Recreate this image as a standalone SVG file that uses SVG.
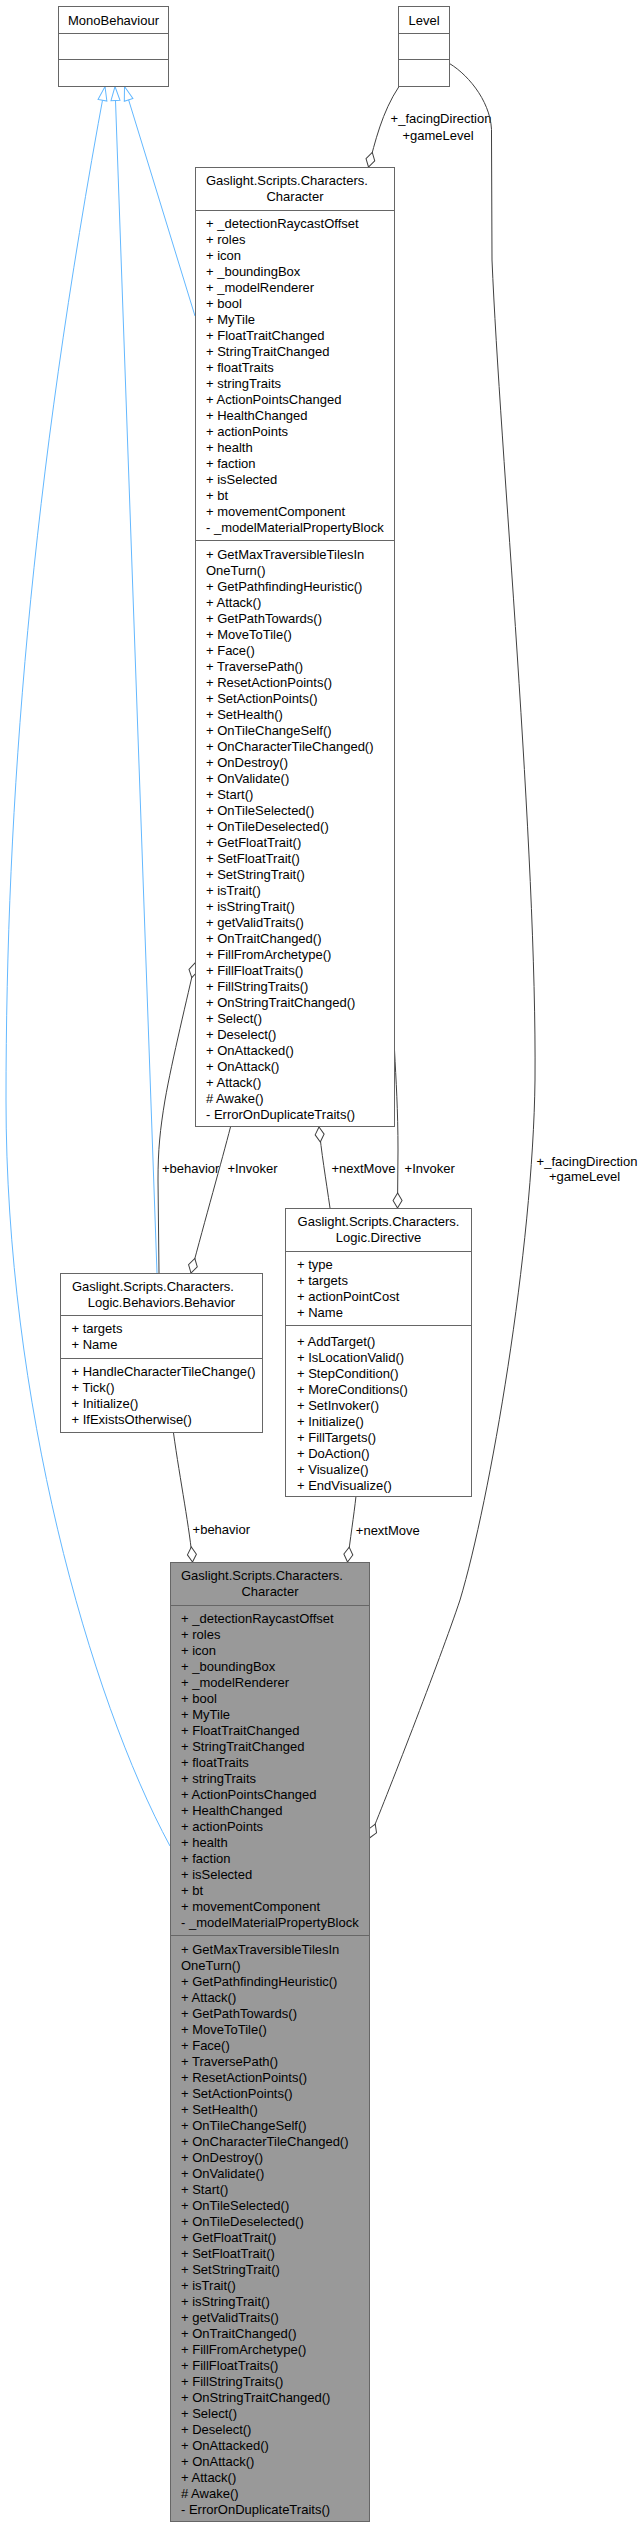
<svg xmlns="http://www.w3.org/2000/svg" width="639" height="2528" viewBox="0 0 639 2528">
<style>
text{font-family:"Liberation Sans",Arial,Helvetica,sans-serif;font-size:13px;fill:#000}
.c{text-anchor:middle}
.box{fill:#fff;stroke:#666;stroke-width:1}
.cur{fill:#999;stroke:#666;stroke-width:1}
.sep{stroke:#666;stroke-width:1;fill:none}
.inh{fill:none;stroke:#63B8FF;stroke-width:1;marker-end:url(#tri)}
.asc{fill:none;stroke:#404040;stroke-width:1;marker-start:url(#dia)}
</style>
<defs>
<marker id="tri" markerUnits="userSpaceOnUse" markerWidth="16" markerHeight="12" viewBox="-1 -1 16 12" refX="14" refY="5" orient="auto"><path d="M0,0.5 L14,5 L0,9.5 Z" fill="#fff" stroke="#63B8FF"/></marker>
<marker id="dia" markerUnits="userSpaceOnUse" markerWidth="17" markerHeight="11" viewBox="-1 -1 17 11" refX="0" refY="4.5" orient="auto"><path d="M0,4.5 L7.5,0 L15,4.5 L7.5,9 Z" fill="#fff" stroke="#404040"/></marker>
</defs>
<rect width="639" height="2528" fill="#fff"/>
<g id="connectors">
<path class="inh" d="M170,1846 C89,1696 6,1400 6,1100 C6,800 31,486 105,86.5"/>
<path class="inh" d="M157,1273 L115,86.5"/>
<path class="inh" d="M195,316 L124.5,86.5"/>
<path class="asc" d="M368.5,167 C375,142 382,112 399,86.5"/>
<text class="c" x="441" y="122.5">+_facingDirection</text>
<text class="c" x="438" y="139.5">+gameLevel</text>
<path class="asc" d="M369.5,1838 C384,1803 440,1660 460,1600 C490,1500 533,1250 535,1080 C537,850 500,450 492,260 L491.5,135 C493,105 470,76 449.5,63.5"/>
<text class="c" x="587" y="1165.5">+_facingDirection</text>
<text class="c" x="584.5" y="1181">+gameLevel</text>
<path class="asc" d="M195,963 C188,995 172,1060 165,1100 C160,1130 158,1150 158,1180 L159,1273"/>
<text class="c" x="190.7" y="1172.5">+behavior</text>
<path class="asc" d="M191,1273 C205,1220 222,1160 230.5,1127"/>
<text class="c" x="252.5" y="1172.5">+Invoker</text>
<path class="asc" d="M319,1127 C321,1150 326,1180 330,1208"/>
<text class="c" x="363.4" y="1172.5">+nextMove</text>
<path class="asc" d="M397.5,1208 L398,1150 C398,1110 396,1080 394.5,1050"/>
<text class="c" x="429.7" y="1172.5">+Invoker</text>
<path class="asc" d="M192.5,1562 C190,1530 180,1480 173.5,1433"/>
<text class="c" x="221.3" y="1534">+behavior</text>
<path class="asc" d="M347.5,1562 C350,1540 354,1515 356,1496"/>
<text class="c" x="387.8" y="1534.5">+nextMove</text>
</g>
<g id="MonoBehaviour">
<rect class="box" x="58.5" y="6.5" width="110" height="80"/>
<path class="sep" d="M58.5,33.5 H168.5 M58.5,59.5 H168.5"/>
<text class="c" x="113.5" y="25">MonoBehaviour</text>
</g>
<g id="Level">
<rect class="box" x="398.5" y="6.5" width="51" height="80"/>
<path class="sep" d="M398.5,33.5 H449.5 M398.5,59.5 H449.5"/>
<text class="c" x="424" y="25">Level</text>
</g>
<g id="Character">
<rect class="box" x="195.5" y="167.5" width="199" height="959"/>
<path class="sep" d="M195.5,210.5 H394.5 M195.5,540.5 H394.5"/>
<text x="206" y="185">Gaslight.Scripts.Characters.</text>
<text class="c" x="295" y="201">Character</text>
<text x="206" y="228"><tspan x="206">+ _detectionRaycastOffset</tspan><tspan x="206" dy="16">+ roles</tspan><tspan x="206" dy="16">+ icon</tspan><tspan x="206" dy="16">+ _boundingBox</tspan><tspan x="206" dy="16">+ _modelRenderer</tspan><tspan x="206" dy="16">+ bool</tspan><tspan x="206" dy="16">+ MyTile</tspan><tspan x="206" dy="16">+ FloatTraitChanged</tspan><tspan x="206" dy="16">+ StringTraitChanged</tspan><tspan x="206" dy="16">+ floatTraits</tspan><tspan x="206" dy="16">+ stringTraits</tspan><tspan x="206" dy="16">+ ActionPointsChanged</tspan><tspan x="206" dy="16">+ HealthChanged</tspan><tspan x="206" dy="16">+ actionPoints</tspan><tspan x="206" dy="16">+ health</tspan><tspan x="206" dy="16">+ faction</tspan><tspan x="206" dy="16">+ isSelected</tspan><tspan x="206" dy="16">+ bt</tspan><tspan x="206" dy="16">+ movementComponent</tspan><tspan x="206" dy="16">- _modelMaterialPropertyBlock</tspan></text>
<text x="206" y="559"><tspan x="206">+ GetMaxTraversibleTilesIn</tspan><tspan x="206" dy="16">OneTurn()</tspan><tspan x="206" dy="16">+ GetPathfindingHeuristic()</tspan><tspan x="206" dy="16">+ Attack()</tspan><tspan x="206" dy="16">+ GetPathTowards()</tspan><tspan x="206" dy="16">+ MoveToTile()</tspan><tspan x="206" dy="16">+ Face()</tspan><tspan x="206" dy="16">+ TraversePath()</tspan><tspan x="206" dy="16">+ ResetActionPoints()</tspan><tspan x="206" dy="16">+ SetActionPoints()</tspan><tspan x="206" dy="16">+ SetHealth()</tspan><tspan x="206" dy="16">+ OnTileChangeSelf()</tspan><tspan x="206" dy="16">+ OnCharacterTileChanged()</tspan><tspan x="206" dy="16">+ OnDestroy()</tspan><tspan x="206" dy="16">+ OnValidate()</tspan><tspan x="206" dy="16">+ Start()</tspan><tspan x="206" dy="16">+ OnTileSelected()</tspan><tspan x="206" dy="16">+ OnTileDeselected()</tspan><tspan x="206" dy="16">+ GetFloatTrait()</tspan><tspan x="206" dy="16">+ SetFloatTrait()</tspan><tspan x="206" dy="16">+ SetStringTrait()</tspan><tspan x="206" dy="16">+ isTrait()</tspan><tspan x="206" dy="16">+ isStringTrait()</tspan><tspan x="206" dy="16">+ getValidTraits()</tspan><tspan x="206" dy="16">+ OnTraitChanged()</tspan><tspan x="206" dy="16">+ FillFromArchetype()</tspan><tspan x="206" dy="16">+ FillFloatTraits()</tspan><tspan x="206" dy="16">+ FillStringTraits()</tspan><tspan x="206" dy="16">+ OnStringTraitChanged()</tspan><tspan x="206" dy="16">+ Select()</tspan><tspan x="206" dy="16">+ Deselect()</tspan><tspan x="206" dy="16">+ OnAttacked()</tspan><tspan x="206" dy="16">+ OnAttack()</tspan><tspan x="206" dy="16">+ Attack()</tspan><tspan x="206" dy="16"># Awake()</tspan><tspan x="206" dy="16">- ErrorOnDuplicateTraits()</tspan></text>
</g>
<g id="Behavior">
<rect class="box" x="60.5" y="1273.5" width="202" height="159"/>
<path class="sep" d="M60.5,1315.5 H262.5 M60.5,1358.5 H262.5"/>
<text x="72" y="1291">Gaslight.Scripts.Characters.</text>
<text class="c" x="161.5" y="1307">Logic.Behaviors.Behavior</text>
<text x="71.5" y="1333"><tspan x="71.5">+ targets</tspan><tspan x="71.5" dy="16">+ Name</tspan></text>
<text x="71.5" y="1376"><tspan x="71.5">+ HandleCharacterTileChange()</tspan><tspan x="71.5" dy="16">+ Tick()</tspan><tspan x="71.5" dy="16">+ Initialize()</tspan><tspan x="71.5" dy="16">+ IfExistsOtherwise()</tspan></text>
</g>
<g id="Directive">
<rect class="box" x="285.5" y="1208.5" width="186" height="288"/>
<path class="sep" d="M285.5,1251.5 H471.5 M285.5,1325.5 H471.5"/>
<text class="c" x="378.5" y="1226">Gaslight.Scripts.Characters.</text>
<text class="c" x="378.5" y="1242">Logic.Directive</text>
<text x="297" y="1269"><tspan x="297">+ type</tspan><tspan x="297" dy="16">+ targets</tspan><tspan x="297" dy="16">+ actionPointCost</tspan><tspan x="297" dy="16">+ Name</tspan></text>
<text x="297" y="1345.5"><tspan x="297">+ AddTarget()</tspan><tspan x="297" dy="16">+ IsLocationValid()</tspan><tspan x="297" dy="16">+ StepCondition()</tspan><tspan x="297" dy="16">+ MoreConditions()</tspan><tspan x="297" dy="16">+ SetInvoker()</tspan><tspan x="297" dy="16">+ Initialize()</tspan><tspan x="297" dy="16">+ FillTargets()</tspan><tspan x="297" dy="16">+ DoAction()</tspan><tspan x="297" dy="16">+ Visualize()</tspan><tspan x="297" dy="16">+ EndVisualize()</tspan></text>
</g>
<g id="CharacterCurrent">
<rect class="cur" x="170.5" y="1562.5" width="199" height="959"/>
<path class="sep" d="M170.5,1605.5 H369.5 M170.5,1935.5 H369.5"/>
<text x="181" y="1580">Gaslight.Scripts.Characters.</text>
<text class="c" x="270" y="1596">Character</text>
<text x="181" y="1623"><tspan x="181">+ _detectionRaycastOffset</tspan><tspan x="181" dy="16">+ roles</tspan><tspan x="181" dy="16">+ icon</tspan><tspan x="181" dy="16">+ _boundingBox</tspan><tspan x="181" dy="16">+ _modelRenderer</tspan><tspan x="181" dy="16">+ bool</tspan><tspan x="181" dy="16">+ MyTile</tspan><tspan x="181" dy="16">+ FloatTraitChanged</tspan><tspan x="181" dy="16">+ StringTraitChanged</tspan><tspan x="181" dy="16">+ floatTraits</tspan><tspan x="181" dy="16">+ stringTraits</tspan><tspan x="181" dy="16">+ ActionPointsChanged</tspan><tspan x="181" dy="16">+ HealthChanged</tspan><tspan x="181" dy="16">+ actionPoints</tspan><tspan x="181" dy="16">+ health</tspan><tspan x="181" dy="16">+ faction</tspan><tspan x="181" dy="16">+ isSelected</tspan><tspan x="181" dy="16">+ bt</tspan><tspan x="181" dy="16">+ movementComponent</tspan><tspan x="181" dy="16">- _modelMaterialPropertyBlock</tspan></text>
<text x="181" y="1953.5"><tspan x="181">+ GetMaxTraversibleTilesIn</tspan><tspan x="181" dy="16">OneTurn()</tspan><tspan x="181" dy="16">+ GetPathfindingHeuristic()</tspan><tspan x="181" dy="16">+ Attack()</tspan><tspan x="181" dy="16">+ GetPathTowards()</tspan><tspan x="181" dy="16">+ MoveToTile()</tspan><tspan x="181" dy="16">+ Face()</tspan><tspan x="181" dy="16">+ TraversePath()</tspan><tspan x="181" dy="16">+ ResetActionPoints()</tspan><tspan x="181" dy="16">+ SetActionPoints()</tspan><tspan x="181" dy="16">+ SetHealth()</tspan><tspan x="181" dy="16">+ OnTileChangeSelf()</tspan><tspan x="181" dy="16">+ OnCharacterTileChanged()</tspan><tspan x="181" dy="16">+ OnDestroy()</tspan><tspan x="181" dy="16">+ OnValidate()</tspan><tspan x="181" dy="16">+ Start()</tspan><tspan x="181" dy="16">+ OnTileSelected()</tspan><tspan x="181" dy="16">+ OnTileDeselected()</tspan><tspan x="181" dy="16">+ GetFloatTrait()</tspan><tspan x="181" dy="16">+ SetFloatTrait()</tspan><tspan x="181" dy="16">+ SetStringTrait()</tspan><tspan x="181" dy="16">+ isTrait()</tspan><tspan x="181" dy="16">+ isStringTrait()</tspan><tspan x="181" dy="16">+ getValidTraits()</tspan><tspan x="181" dy="16">+ OnTraitChanged()</tspan><tspan x="181" dy="16">+ FillFromArchetype()</tspan><tspan x="181" dy="16">+ FillFloatTraits()</tspan><tspan x="181" dy="16">+ FillStringTraits()</tspan><tspan x="181" dy="16">+ OnStringTraitChanged()</tspan><tspan x="181" dy="16">+ Select()</tspan><tspan x="181" dy="16">+ Deselect()</tspan><tspan x="181" dy="16">+ OnAttacked()</tspan><tspan x="181" dy="16">+ OnAttack()</tspan><tspan x="181" dy="16">+ Attack()</tspan><tspan x="181" dy="16"># Awake()</tspan><tspan x="181" dy="16">- ErrorOnDuplicateTraits()</tspan></text>
</g>
</svg>
